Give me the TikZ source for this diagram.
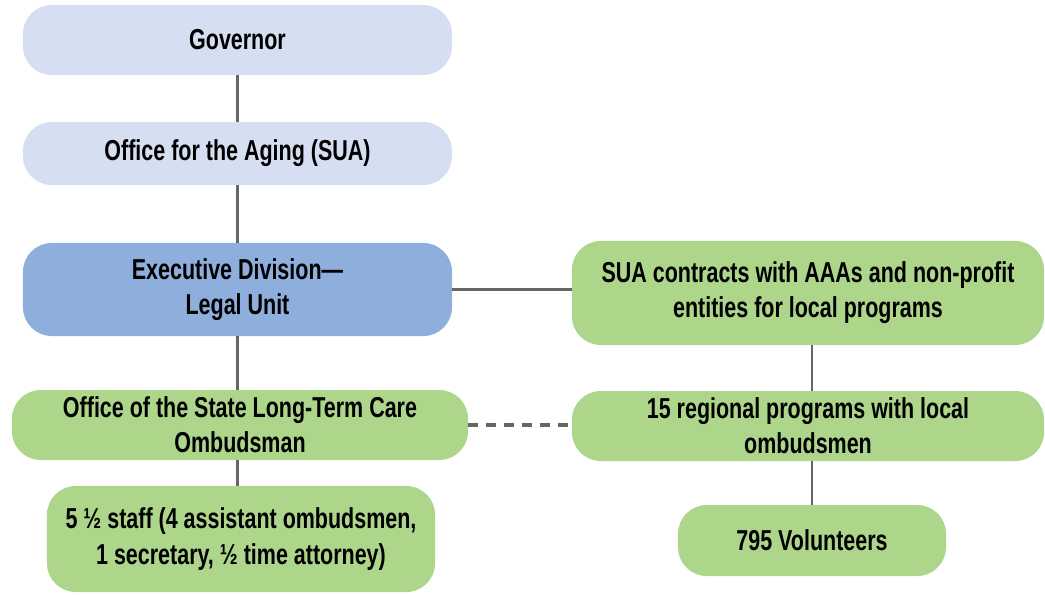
\documentclass[tikz,border=0pt]{standalone}
\usepackage{fontspec}
\setmainfont{Liberation Sans}[FakeStretch=0.745]
\usetikzlibrary{positioning}
\definecolor{paleblue}{HTML}{D6DEF2}
\definecolor{midblue}{HTML}{8EAEDC}
\definecolor{leafgreen}{HTML}{AED68B}
\definecolor{linegray}{HTML}{666666}

\begin{document}
\begin{tikzpicture}[
  x=0.025cm, y=-0.025cm,
  unit/.style={rounded corners=0.72cm, inner sep=0pt, align=center, font=\bfseries\fontsize{20.5}{25}\selectfont},
  topunit/.style={unit, fill=paleblue},
  legalunit/.style={unit, fill=midblue},
  localunit/.style={unit, fill=leafgreen},
  link/.style={draw=linegray, line width=2pt},
  dottedlink/.style={link, line width=2.2pt, dash pattern=on 0.25cm off 0.2cm},
]
  \useasboundingbox (0,0) rectangle (1045,594);

  % Left column
  \node[topunit, minimum width=10.725cm, minimum height=1.75cm] (gov) at (237.5,40) {Governor};
  \node[topunit, minimum width=10.725cm, minimum height=1.575cm] (sua) at (237.5,153.5) {Office for the Aging (SUA)};
  \node[legalunit, minimum width=10.725cm, minimum height=2.325cm] (legal) at (237.5,289.5) {Executive Division—\\Legal Unit};
  \node[localunit, minimum width=11.4cm, minimum height=1.75cm] (state) at (240,425) {Office of the State Long-Term Care\\Ombudsman};
  \node[localunit, minimum width=9.7cm, minimum height=2.65cm] (staff) at (241,539) {5 ½ staff (4 assistant ombudsmen,\\1 secretary, ½ time attorney)};

  % Right column
  \node[localunit, minimum width=11.8cm, minimum height=2.6cm] (contracts) at (808,293) {SUA contracts with AAAs and non-profit\\entities for local programs};
  \node[localunit, minimum width=11.8cm, minimum height=1.75cm] (regional) at (808,426) {15 regional programs with local\\ombudsmen};
  \node[localunit, minimum width=6.7cm, minimum height=1.775cm] (volunteers) at (812,540.5) {795 Volunteers};

  % Connectors
  \draw[link] (gov) -- (sua);
  \draw[link] (sua) -- (legal);
  \draw[link] (legal.south) -- (legal.south |- state.north);
  \draw[link] (state.south -| legal.south) -- (legal.south |- staff.north);
  \draw[link] (legal.east) -- (legal.east -| contracts.west);
  \draw[link] (contracts.south -| volunteers.north) -- (volunteers.north |- regional.north);
  \draw[link] (regional.south -| volunteers.north) -- (volunteers.north);
  \draw[dottedlink] (state.east) -- (state.east -| regional.west);

\end{tikzpicture}
\end{document}
